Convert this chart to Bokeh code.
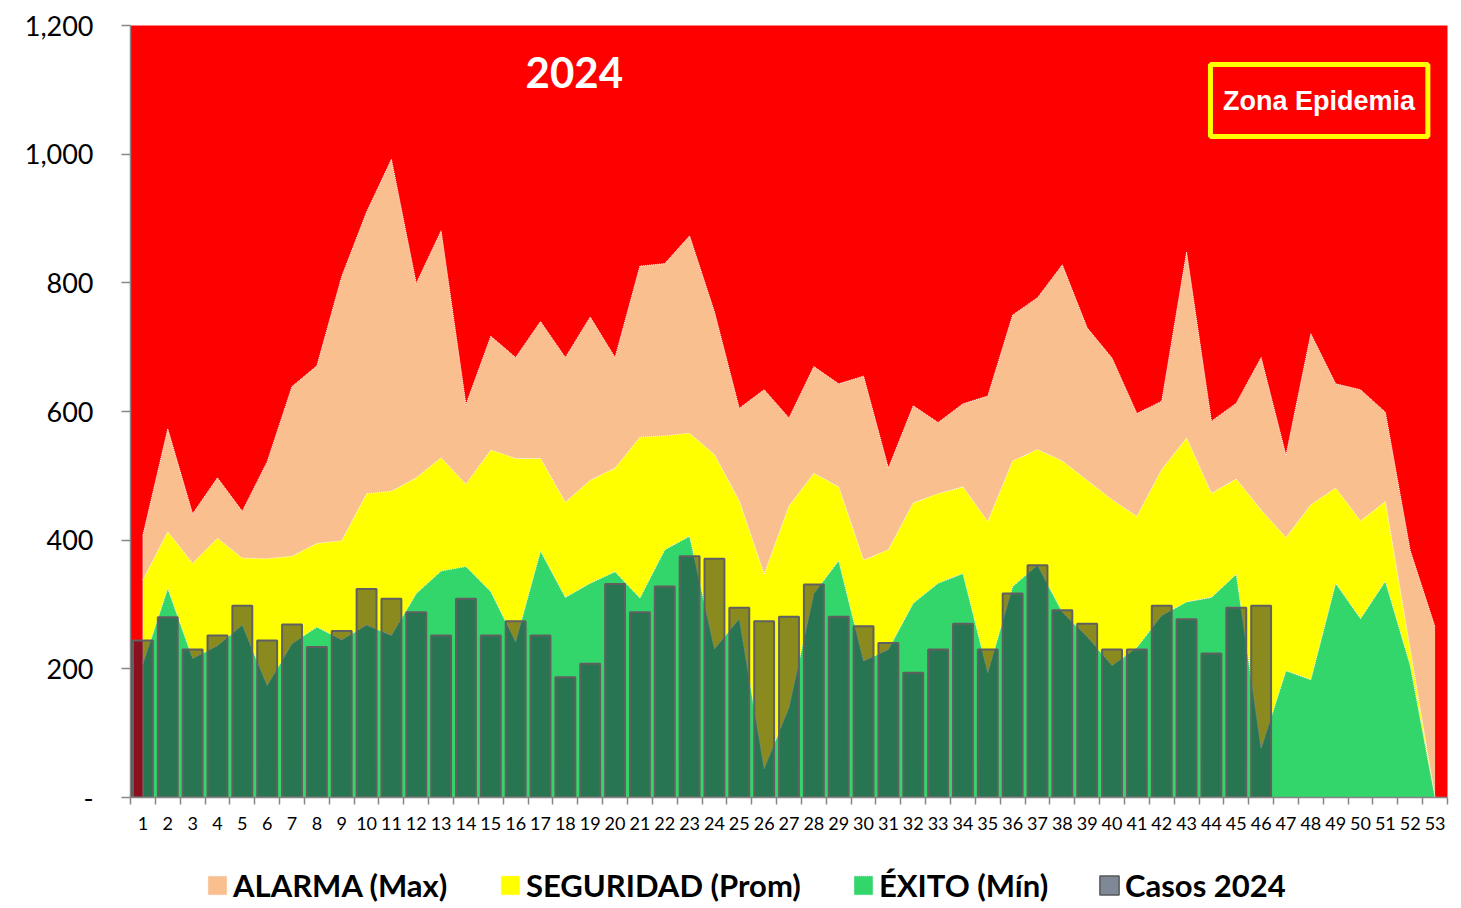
from bokeh.plotting import figure
from bokeh.layouts import column
from bokeh.models import (Range1d, FixedTicker, NumeralTickFormatter, Label, BoxAnnotation,
                          Legend, LegendItem, ColumnDataSource)
from bokeh.embed import file_html
from bokeh.resources import INLINE

weeks = list(range(1, 54))
week_labels = [str(w) for w in weeks]

alarma = [408, 573, 441, 497, 445, 522, 639, 671, 810, 910, 992, 799, 881, 611, 717, 684, 740, 684,
          747, 684, 826, 830, 873, 755, 605, 634, 590, 670, 643, 655, 512, 609, 583, 612, 624, 750,
          777, 828, 730, 683, 597, 616, 848, 585, 613, 684, 532, 721, 643, 634, 599, 384, 265]
seguridad = [338, 413, 364, 403, 372, 371, 375, 395, 399, 472, 476, 497, 528, 487, 540, 527, 527, 459,
             493, 512, 560, 562, 566, 533, 461, 347, 453, 504, 483, 369, 385, 458, 472, 483, 429, 523,
             541, 523, 493, 463, 437, 510, 559, 473, 495, 447, 404, 455, 481, 430, 460, 230, 0]
exito = [208, 325, 216, 236, 268, 174, 239, 265, 245, 268, 252, 317, 352, 359, 320, 242, 383, 311,
         333, 351, 310, 385, 406, 231, 278, 45, 140, 317, 368, 212, 230, 302, 333, 348, 194, 328,
         361, 288, 250, 205, 233, 283, 304, 311, 347, 76, 197, 183, 333, 278, 336, 205, 0]
casos_weeks = list(range(1, 47))
casos = [244, 280, 230, 252, 298, 244, 269, 234, 259, 324, 309, 288, 252, 309, 252, 274, 252, 187,
         208, 332, 288, 328, 375, 371, 295, 274, 281, 331, 281, 266, 240, 194, 230, 270, 230, 317,
         361, 291, 270, 230, 230, 298, 277, 224, 295, 298]
series_names = ["ALARMA (Max)", "SEGURIDAD (Prom)", "ÉXITO (Mín)", "Casos 2024"]

RED = "#ff0000"
PEACH = "#f9bf8f"
YELLOW = "#ffff00"
GREEN = "#33d66a"
W = 1455
LEFT = 130

p = figure(width=W, height=846, output_backend="svg", toolbar_location=None,
           x_range=Range1d(0.5, 53.5), y_range=Range1d(0, 1200),
           min_border_left=LEFT, min_border_right=8, min_border_top=25, min_border_bottom=49)
p.background_fill_color = RED
p.border_fill_color = "white"
p.outline_line_color = None
p.xgrid.visible = False
p.ygrid.visible = False

src = ColumnDataSource(dict(x=weeks, a=alarma, s=seguridad, e=exito))
for col, color in (("a", PEACH), ("s", YELLOW), ("e", GREEN)):
    p.varea(x="x", y1=0, y2=col, source=src, fill_color=color)
    p.line(x="x", y=col, source=src, line_color="white", line_width=1, line_dash="1 1")
# left edge of the stacked areas
p.segment(x0=[weeks[0]], y0=[0], x1=[weeks[0]], y1=[alarma[0]], line_color="white",
          line_width=1, line_dash="1 1")

bsrc = ColumnDataSource(dict(x=casos_weeks, top=casos))
p.vbar(x="x", top="top", width=0.8, bottom=0, source=bsrc, fill_color="#1f1f3c", fill_alpha=0.52,
       line_color="#606060", line_width=2)

# axes
xa = p.xaxis[0]
xa.ticker = FixedTicker(ticks=weeks, minor_ticks=[w - 0.5 for w in weeks] + [53.5])
xa.major_label_overrides = {w: s for w, s in zip(weeks, week_labels)}
xa.major_tick_line_color = None
xa.major_tick_out = 6
xa.minor_tick_out = 7
xa.minor_tick_in = 0
xa.minor_tick_line_color = "#868686"
xa.minor_tick_line_width = 1.5
xa.axis_line_color = "#868686"
xa.axis_line_width = 1.5
xa.major_label_standoff = 12
xa.major_label_text_font = "Lato"
xa.major_label_text_font_size = "18px"
xa.major_label_text_color = "black"

ya = p.yaxis[0]
ya.ticker = FixedTicker(ticks=[0, 200, 400, 600, 800, 1000, 1200])
ya.formatter = NumeralTickFormatter(format="0,0")
ya.major_label_overrides = {0: "-"}
ya.major_tick_out = 9
ya.major_tick_in = 0
ya.major_tick_line_color = "#868686"
ya.major_tick_line_width = 1.5
ya.minor_tick_line_color = None
ya.axis_line_color = "#868686"
ya.axis_line_width = 1.5
ya.major_label_standoff = 28
ya.major_label_text_font = "Lato"
ya.major_label_text_font_size = "27px"
ya.major_label_text_color = "black"

# title and zone label
p.add_layout(Label(x=18.36, y=1127, text="2024", text_font="Lato", text_font_style="bold",
                   text_font_size="42px", text_color="white", text_align="center",
                   text_baseline="middle"))
p.add_layout(BoxAnnotation(left=43.96, right=52.71, bottom=1027.5, top=1139.4, fill_alpha=0,
                           line_color="#ffff00", line_alpha=1, line_width=5))
p.add_layout(Label(x=48.33, y=1083, text="Zona Epidemia", text_font="Liberation Sans",
                   text_font_style="bold", text_font_size="27px", text_color="white",
                   text_align="center", text_baseline="middle"))

# legend strip below the chart
lf = figure(width=W, height=58, output_backend="svg", toolbar_location=None,
            x_range=Range1d(0, 1), y_range=Range1d(0, 1), x_axis_type=None, y_axis_type=None,
            min_border=0, min_border_left=0, min_border_right=0, min_border_top=0,
            min_border_bottom=0)
lf.outline_line_color = None
lf.background_fill_color = "white"
lf.border_fill_color = "white"
lf.xgrid.visible = False
lf.ygrid.visible = False

# one off-screen placeholder per legend entry so that the swatch gets drawn
dummy = ColumnDataSource(dict(x=[-10], top=[-10]))
leg_specs = [
    (series_names[0], PEACH, "white", 205),
    (series_names[1], YELLOW, "white", 498),
    (series_names[2], GREEN, "white", 851),
    (series_names[3], "#7f8896", "#595959", 1097),
]
for label, fc, lc, px in leg_specs:
    solid = lc != "white"
    r = lf.vbar(x="x", top="top", width=0.1, bottom=-11, source=dummy, fill_color=fc,
                line_color=lc, line_width=1.5 if solid else 1,
                line_dash="solid" if solid else "1 1")
    lg = Legend(items=[LegendItem(label=label, renderers=[r])], location=(px - LEFT, 0),
                orientation="horizontal", padding=0, margin=0, border_line_color=None,
                background_fill_alpha=0, glyph_width=24, glyph_height=24, label_standoff=4,
                label_text_font="Lato", label_text_font_style="bold",
                label_text_font_size="31px", label_text_color="black")
    lf.add_layout(lg, "center")

layout = column(p, lf, spacing=0)
open("out.html", "w").write(file_html(layout, INLINE))
